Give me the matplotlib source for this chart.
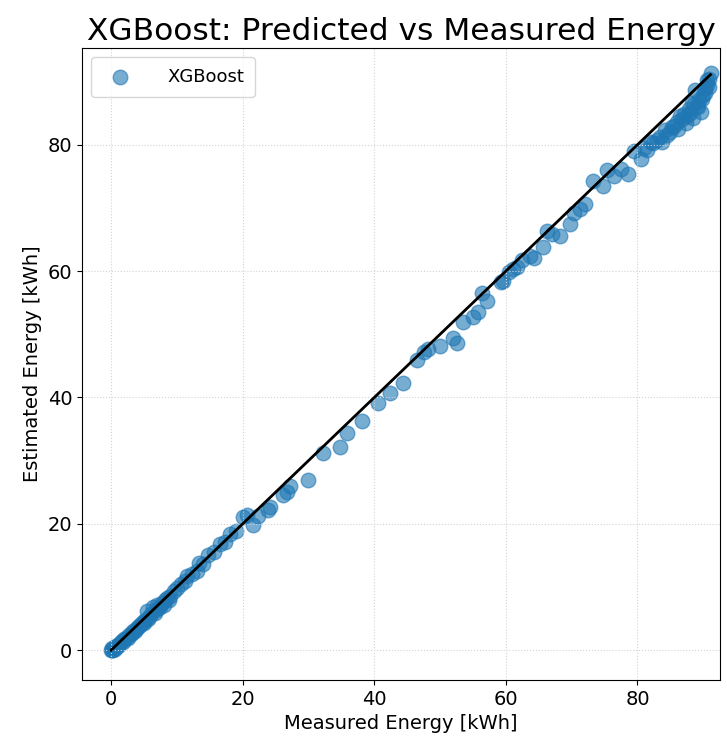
import numpy as np
import matplotlib.pyplot as plt

# measured vs predicted energy (kWh)
measured = [0, 0.1, 0.2, 0.3, 0.5, 0.8, 1.0, 1.3, 1.6, 2.0, 2.3, 2.7, 3.0, 3.4, 3.8,
            4.1, 4.5, 4.8, 5.2, 5.5, 5.8, 6.1, 6.4, 6.8, 7.0, 7.4, 7.8, 8.2, 8.5, 9.0,
            9.5, 10.0, 10.6, 11.2, 11.6, 12.3, 13.1, 13.4, 14.0, 14.8, 15.6, 16.6, 17.3,
            18.1, 19.0, 20.0, 20.6, 21.6, 22.4, 23.9, 24.2, 26.2, 26.8, 27.2, 30.0,
            32.2, 34.8, 35.9, 38.2, 40.6, 42.4, 44.3, 46.5, 47.5, 48.2, 50.0, 51.9,
            52.6, 53.5, 55.0, 55.7, 56.4, 57.2, 59.2, 59.5, 60.5, 61.1, 61.7, 62.5,
            63.7, 64.2, 65.7, 66.3, 67.0, 68.3, 69.8, 70.3, 71.2, 72.0, 73.3, 74.8,
            75.4, 76.5, 77.5, 78.5, 79.5, 80.5, 81.5, 82.4, 83.0, 83.8, 84.5, 85.0,
            85.6, 86.2, 86.8, 87.3, 87.6, 88.0, 88.3, 88.5, 88.8, 89.2, 89.6, 89.8,
            90.0, 90.3, 90.6, 90.8, 91.1,
            # extra points in the dense ends
            0.6, 1.1, 1.8, 2.5, 3.2, 3.6, 4.3, 5.0, 5.6, 6.6, 7.2, 8.0, 8.8,
            81.0, 82.0, 83.4, 84.2, 85.3, 86.0, 86.5, 87.0, 87.8, 88.6, 89.0, 89.4,
            90.2, 90.5, 90.9]
predicted = [0, 0.0, 0.3, 0.1, 0.4, 0.7, 0.8, 1.1, 1.4, 1.7, 2.0, 2.4, 2.6, 3.0, 3.4,
             3.7, 4.2, 4.4, 4.8, 6.2, 5.3, 5.7, 6.8, 6.3, 7.2, 6.9, 7.4, 7.9, 8.3, 8.6,
             9.3, 9.8, 10.5, 10.9, 11.8, 12.0, 12.6, 13.8, 13.6, 15.0, 15.5, 16.8, 17.1,
             18.4, 18.8, 21.0, 21.4, 19.8, 21.3, 22.2, 22.6, 24.5, 25.0, 26.0, 26.9,
             31.2, 32.2, 34.4, 36.3, 39.2, 40.7, 42.3, 46.0, 47.2, 47.6, 48.2, 49.4,
             48.6, 51.9, 52.7, 53.6, 56.6, 55.2, 58.2, 58.5, 59.8, 60.3, 60.6, 61.8,
             62.4, 62.0, 63.8, 66.4, 65.8, 65.6, 67.5, 69.2, 69.8, 70.6, 74.2, 73.4,
             76.0, 75.0, 76.2, 75.4, 79.0, 77.8, 79.2, 80.3, 80.8, 80.5, 81.6, 82.0,
             83.0, 82.5, 84.0, 83.4, 84.5, 85.0, 86.6, 84.2, 88.6, 86.0, 85.2, 87.2,
             87.8, 89.0, 90.3, 89.2, 91.3,
             0.2, 0.6, 1.3, 2.0, 2.7, 3.0, 3.8, 4.3, 4.9, 5.9, 6.6, 7.2, 8.0,
             79.5, 80.4, 81.2, 82.3, 82.8, 83.6, 84.6, 84.8, 85.6, 86.4, 86.2, 87.0,
             88.2, 89.5, 90.4]

x = np.array(measured)
y = np.array(predicted)

plt.figure(figsize=(7.27, 7.39), dpi=100)
ax = plt.gca()
ax.scatter(x, y, s=110, alpha=0.6, color="tab:blue", label="XGBoost")
ax.plot([x.min(), x.max()], [x.min(), x.max()], color="black", lw=2)
ax.set_title("XGBoost: Predicted vs Measured Energy", fontsize=22.5)
ax.set_xlabel("Measured Energy [kWh]", fontsize=14)
ax.set_ylabel("Estimated Energy [kWh]", fontsize=14)
ax.tick_params(labelsize=14)
ax.set_xticks([0, 20, 40, 60, 80])
ax.set_yticks([0, 20, 40, 60, 80])
ax.set_xlim(-4.4, 92.5)
ax.set_ylim(-4.7, 95.3)
ax.grid(True, linestyle=":", color="lightgray")
ax.legend(loc="upper left", fontsize=13, handletextpad=1.6, borderpad=0.6)

plt.subplots_adjust(left=0.113, right=0.99, top=0.935, bottom=0.08)
plt.savefig("out.png")
